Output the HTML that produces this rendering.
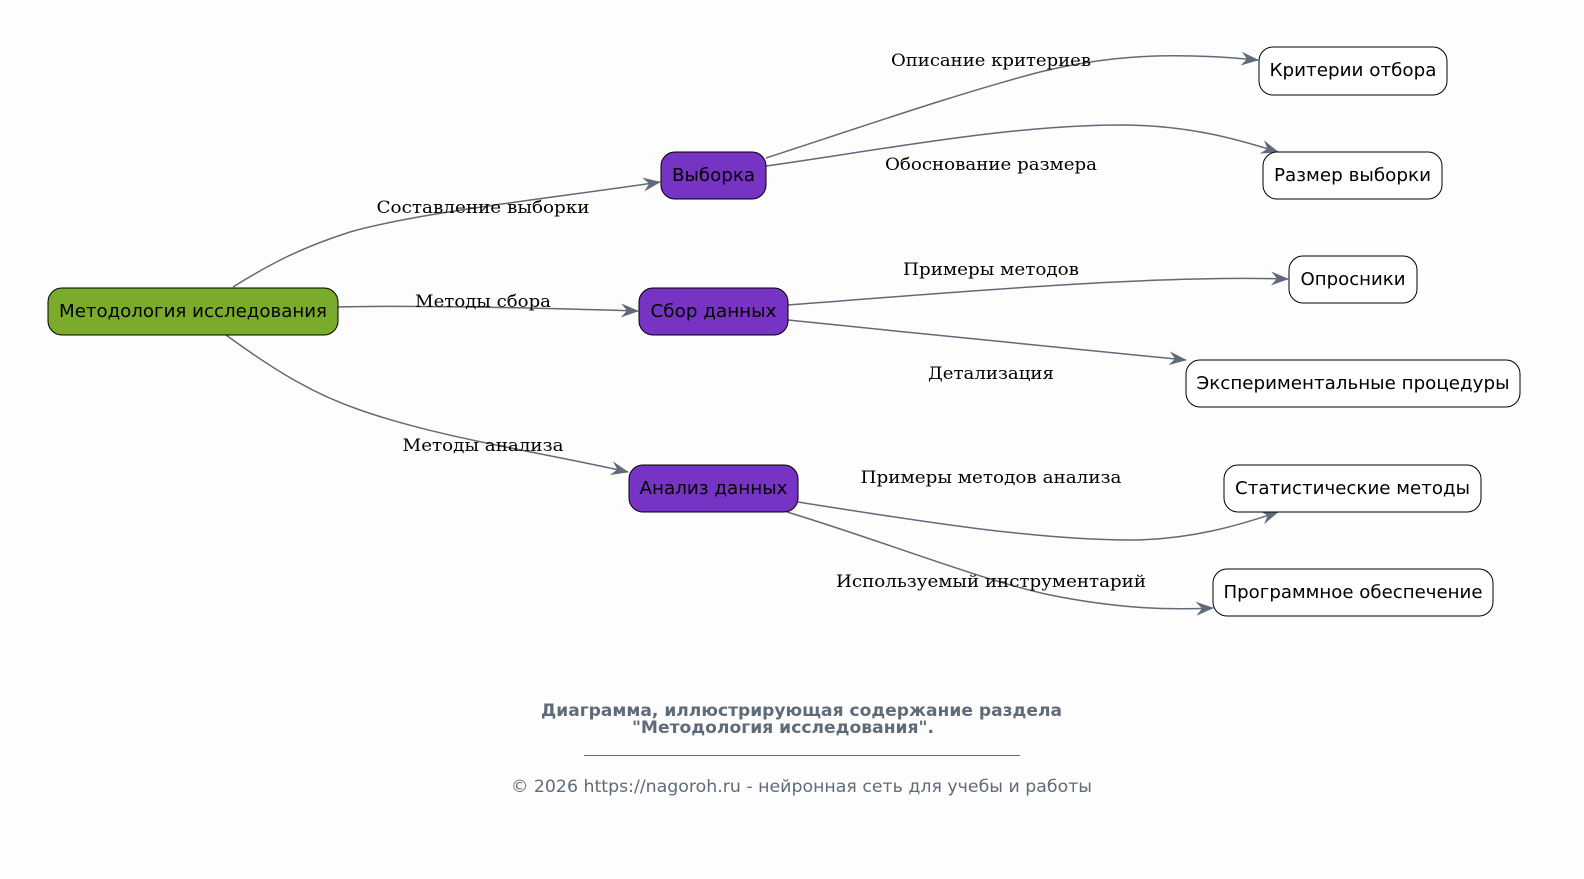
<!DOCTYPE html>
<html><head><meta charset="utf-8"><style>
html,body{margin:0;padding:0;background:#fefdfd;}
svg{display:block;}
.n{font-family:"DejaVu Sans","Liberation Sans",sans-serif;font-size:17.5px;fill:#000;}
.l{font-family:"DejaVu Serif","Liberation Serif",serif;font-size:16.5px;fill:#000;}
.e{fill:none;stroke:#5f6b78;stroke-width:1.5;}
</style></head><body>
<svg width="1584" height="879" viewBox="0 0 1584 879" xmlns="http://www.w3.org/2000/svg">
<defs>
<marker id="a" markerWidth="18" markerHeight="14" refX="17" refY="7" orient="auto" markerUnits="userSpaceOnUse" viewBox="0 0 18 14">
<path d="M0,0 L18,7 L0,14 L6,7 z" fill="#5f6b78"/>
</marker>
</defs>
<rect width="1584" height="879" fill="#fefdfd"/>
<!-- edges -->
<path class="e" marker-end="url(#a)" d="M233,287 C270,264 300,248 350,232 C420,212 560,197 660,182"/>
<path class="e" marker-end="url(#a)" d="M338,307 C420,305 540,308 638,311"/>
<path class="e" marker-end="url(#a)" d="M226,335 C270,367 310,393 360,410 C440,438 540,452 628,472"/>
<path class="e" marker-end="url(#a)" d="M766,158 C870,124 960,93 1040,72 C1130,50 1200,55 1258,60"/>
<path class="e" marker-end="url(#a)" d="M766,166 C880,150 1010,125 1120,125 C1190,125 1240,140 1278,152"/>
<path class="e" marker-end="url(#a)" d="M788,305 C960,292 1150,275 1288,279"/>
<path class="e" marker-end="url(#a)" d="M788,320 C920,334 1060,347 1186,360"/>
<path class="e" marker-end="url(#a)" d="M798,502 C900,518 1030,540 1130,540 C1190,540 1240,525 1278,512"/>
<path class="e" marker-end="url(#a)" d="M787,512 C880,540 980,580 1050,595 C1120,609 1170,610 1213,608"/>
<!-- edge labels -->
<text class="l" x="483" y="213" text-anchor="middle" textLength="213" lengthAdjust="spacingAndGlyphs">Составление выборки</text>
<text class="l" x="483" y="307" text-anchor="middle" textLength="136" lengthAdjust="spacingAndGlyphs">Методы сбора</text>
<text class="l" x="483" y="451" text-anchor="middle" textLength="161" lengthAdjust="spacingAndGlyphs">Методы анализа</text>
<text class="l" x="991" y="66" text-anchor="middle" textLength="200" lengthAdjust="spacingAndGlyphs">Описание критериев</text>
<text class="l" x="991" y="170" text-anchor="middle" textLength="212" lengthAdjust="spacingAndGlyphs">Обоснование размера</text>
<text class="l" x="991" y="275" text-anchor="middle" textLength="176" lengthAdjust="spacingAndGlyphs">Примеры методов</text>
<text class="l" x="991" y="379" text-anchor="middle" textLength="126" lengthAdjust="spacingAndGlyphs">Детализация</text>
<text class="l" x="991" y="483" text-anchor="middle" textLength="261" lengthAdjust="spacingAndGlyphs">Примеры методов анализа</text>
<text class="l" x="991" y="587" text-anchor="middle" textLength="310" lengthAdjust="spacingAndGlyphs">Используемый инструментарий</text>
<!-- nodes -->
<rect x="48" y="288" width="290" height="47" rx="14" fill="#7aab2a" stroke="#000" stroke-width="1"/>
<text class="n" x="193" y="317" text-anchor="middle" textLength="268" lengthAdjust="spacingAndGlyphs">Методология исследования</text>
<rect x="661" y="152" width="105" height="47" rx="14" fill="#7733c4" stroke="#000"/>
<text class="n" x="713.5" y="181" text-anchor="middle" textLength="83" lengthAdjust="spacingAndGlyphs">Выборка</text>
<rect x="639" y="288" width="149" height="47" rx="14" fill="#7733c4" stroke="#000"/>
<text class="n" x="713.5" y="317" text-anchor="middle" textLength="126" lengthAdjust="spacingAndGlyphs">Сбор данных</text>
<rect x="629" y="465" width="169" height="47" rx="14" fill="#7733c4" stroke="#000"/>
<text class="n" x="713.5" y="494" text-anchor="middle" textLength="148" lengthAdjust="spacingAndGlyphs">Анализ данных</text>
<rect x="1259" y="47" width="188" height="48" rx="14" fill="#fff" stroke="#000"/>
<text class="n" x="1353" y="76" text-anchor="middle" textLength="167" lengthAdjust="spacingAndGlyphs">Критерии отбора</text>
<rect x="1263" y="152" width="179" height="47" rx="14" fill="#fff" stroke="#000"/>
<text class="n" x="1352.5" y="181" text-anchor="middle" textLength="157" lengthAdjust="spacingAndGlyphs">Размер выборки</text>
<rect x="1289" y="256" width="128" height="47" rx="14" fill="#fff" stroke="#000"/>
<text class="n" x="1353" y="285" text-anchor="middle" textLength="105" lengthAdjust="spacingAndGlyphs">Опросники</text>
<rect x="1186" y="360" width="334" height="47" rx="14" fill="#fff" stroke="#000"/>
<text class="n" x="1353" y="389" text-anchor="middle" textLength="313" lengthAdjust="spacingAndGlyphs">Экспериментальные процедуры</text>
<rect x="1224" y="465" width="257" height="47" rx="14" fill="#fff" stroke="#000"/>
<text class="n" x="1352.5" y="494" text-anchor="middle" textLength="235" lengthAdjust="spacingAndGlyphs">Статистические методы</text>
<rect x="1213" y="569" width="280" height="47" rx="14" fill="#fff" stroke="#000"/>
<text class="n" x="1353" y="598" text-anchor="middle" textLength="259" lengthAdjust="spacingAndGlyphs">Программное обеспечение</text>
<!-- footer -->
<g font-family="'DejaVu Sans','Liberation Sans',sans-serif" fill="#5f6b78" text-anchor="middle">
<text x="801.5" y="716" font-size="16.5" font-weight="bold" textLength="521" lengthAdjust="spacingAndGlyphs">Диаграмма, иллюстрирующая содержание раздела</text>
<text x="783" y="733" font-size="16.5" font-weight="bold" textLength="302" lengthAdjust="spacingAndGlyphs">"Методология исследования".</text>
<text x="801.5" y="792" font-size="16.5" textLength="581" lengthAdjust="spacingAndGlyphs">© 2026 https://nagoroh.ru - нейронная сеть для учебы и работы</text>
</g>
<line x1="584" y1="755.5" x2="1020" y2="755.5" stroke="#5f6b78" stroke-width="1"/>
</svg>
</body></html>
